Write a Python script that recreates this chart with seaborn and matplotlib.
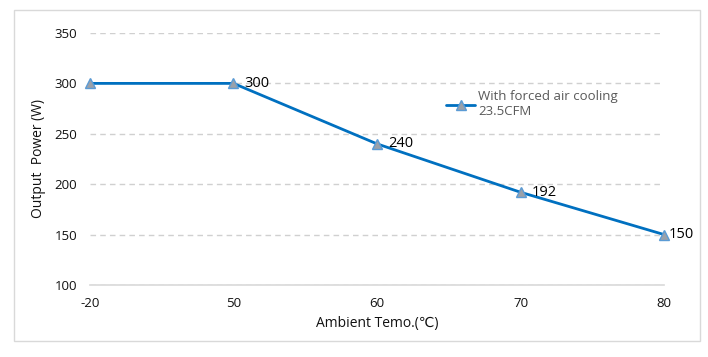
import matplotlib
matplotlib.use("Agg")
import matplotlib.pyplot as plt
import seaborn as sns
import pandas as pd
from matplotlib.patches import Rectangle

# data
temps = ["-20", "50", "60", "70", "80"]
power = [300, 300, 240, 192, 150]
labelled = [False, True, True, True, True]
series_name = "With forced air cooling\n23.5CFM"

df = pd.DataFrame({"temp": temps, "power": power})

sns.set_style("white")
plt.rcParams["font.family"] = ["Open Sans", "DejaVu Sans", "Noto Sans CJK SC"]

fig = plt.figure(figsize=(7.08, 3.57), dpi=100)
ax = fig.add_axes([0.127, 0.2017, 0.811, 0.7059])

# light frame around the whole chart
fig.patches.append(Rectangle((14 / 708, 1 - 341 / 357), 686 / 708, 331 / 357,
                             transform=fig.transFigure, fill=False,
                             edgecolor="#d9d9d9", linewidth=1))

sns.lineplot(data=df, x="temp", y="power", ax=ax, color="#0070c0", linewidth=2,
             marker="^", markersize=7, markerfacecolor="#9aa1aa",
             markeredgecolor="#5b9bd5", markeredgewidth=1, label=series_name,
             zorder=3)
for ln in ax.lines:
    ln.set_clip_on(False)

for i, (p, show) in enumerate(zip(power, labelled)):
    if show:
        ax.annotate(str(p), (i, p), xytext=(8 if i < 4 else 3, 0),
                    textcoords="offset points", va="center", ha="left",
                    fontsize=10.5, color="black")

ax.set_ylim(100, 350)
ax.set_yticks(range(100, 351, 50))
ax.set_xlim(0, 4)
ax.yaxis.grid(True, linestyle=(0, (4, 3)), color="#d0d0d0", linewidth=1)
ax.set_axisbelow(True)
for s in ["top", "right", "left"]:
    ax.spines[s].set_visible(False)
ax.spines["bottom"].set_color("#d9d9d9")
ax.spines["bottom"].set_linewidth(1.2)
ax.tick_params(axis="both", length=0, labelsize=9.5, colors="#111111", pad=9)

ax.set_xlabel("Ambient Temo.(℃)", fontsize=10, color="#111111", labelpad=4)
ax.set_ylabel("Output  Power (W)", fontsize=10, color="#111111", labelpad=6)

leg = ax.legend(loc="upper left", bbox_to_anchor=(0.6, 0.82), frameon=False,
                fontsize=9.5, handlelength=2.2, handletextpad=0.2)
for t in leg.get_texts():
    t.set_color("#595959")

fig.savefig("out.png", dpi=100)
